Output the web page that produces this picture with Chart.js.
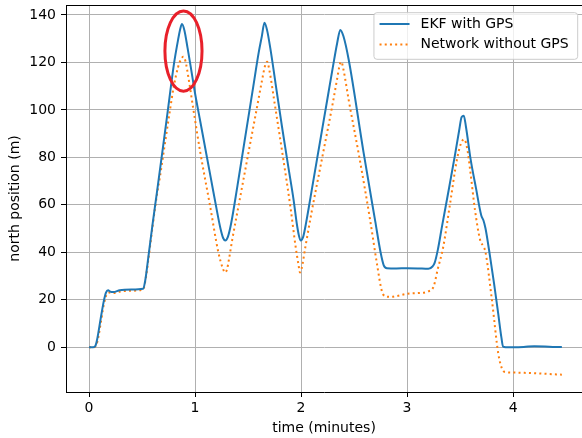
<!DOCTYPE html>
<html>
<head>
<meta charset="utf-8">
<script src="https://cdn.jsdelivr.net/npm/chart.js@4/dist/chart.umd.min.js"></script>
<style>
  body { margin:0; background:#fff; }
  #wrap { width:582px; height:438px; }
</style>
</head>
<body>
<div id="wrap"><canvas id="northChart"></canvas></div>
<script>
// --- Données (temps en minutes, position nord en m) ---
const timeEkf = [
  0, 0.04, 0.06, 0.08, 0.11, 0.14, 0.16, 0.18, 0.2, 0.23,
  0.29, 0.4, 0.51, 0.53, 0.56, 0.6, 0.64, 0.7, 0.75, 0.8,
  0.84, 0.86, 0.877, 0.9, 0.93, 0.96, 1.0, 1.05, 1.1, 1.15,
  1.2, 1.24, 1.265, 1.285, 1.31, 1.34, 1.4, 1.45, 1.5, 1.55,
  1.6, 1.63, 1.655, 1.68, 1.71, 1.76, 1.82, 1.88, 1.93, 1.96,
  1.98, 1.995, 2.02, 2.05, 2.1, 2.15, 2.2, 2.25, 2.3, 2.34,
  2.37, 2.4, 2.45, 2.59, 2.7, 2.75, 2.78, 2.81, 2.9, 3.0,
  3.1, 3.2, 3.24, 3.26, 3.29, 3.33, 3.4, 3.45, 3.49, 3.515,
  3.535, 3.555, 3.6, 3.65, 3.7, 3.72, 3.74, 3.78, 3.82, 3.86,
  3.89, 3.905, 3.93, 4.0, 4.1, 4.2, 4.3, 4.4, 4.46
];
const northEkf = [
  0, 0, 0.5, 4, 12, 19.5, 23, 24, 23.4, 23.2,
  24, 24.3, 24.6, 28, 38, 52, 65, 85, 102, 119,
  129.5, 134, 136.2, 133.5, 126, 118, 107, 95, 83, 71,
  59, 50, 46, 45, 46.5, 52, 68, 82, 96, 110,
  124, 131, 136.7, 133.5, 126, 111, 93, 76, 62, 52,
  47, 45, 46.5, 53, 66, 79, 92, 105, 118, 128,
  133.7, 131, 121, 82, 53, 40, 34.5, 33.3, 33.2, 33.3,
  33.2, 33, 34, 35.5, 41, 51, 68, 80.5, 91, 97,
  97.5, 93, 79, 67, 55.5, 53.5, 50, 39, 27, 14,
  4, 0.3, 0, 0, 0.1, 0.4, 0.3, 0.1, 0.1
];
const timeNet = [
  0, 0.05, 0.08, 0.11, 0.14, 0.17, 0.2, 0.23, 0.3, 0.4,
  0.51, 0.53, 0.56, 0.6, 0.64, 0.67, 0.7, 0.764, 0.8, 0.84,
  0.87, 0.89, 0.91, 0.94, 0.985, 1.05, 1.14, 1.22, 1.26, 1.283,
  1.3, 1.32, 1.35, 1.425, 1.5, 1.58, 1.63, 1.66, 1.68, 1.7,
  1.75, 1.83, 1.9, 1.95, 1.975, 1.99, 2.005, 2.04, 2.1, 2.2,
  2.3, 2.34, 2.365, 2.38, 2.4, 2.45, 2.55, 2.65, 2.72, 2.76,
  2.79, 2.85, 2.9, 3.0, 3.1, 3.2, 3.25, 3.29, 3.34, 3.406,
  3.47, 3.51, 3.54, 3.57, 3.594, 3.64, 3.69, 3.72, 3.74, 3.8,
  3.86, 3.9, 3.93, 4.0, 4.2, 4.46
];
const northNet = [
  0, 0, 2.5, 10, 18, 22.5, 23, 22.8, 23.5, 23.8,
  24.3, 27.5, 37, 51, 64, 72, 81, 100, 110, 118,
  121.5, 122.4, 120.5, 113, 100, 82, 60, 40, 33.5, 31.5,
  32.5, 37, 45, 63, 81, 100, 112, 118.5, 120.3, 117,
  103, 80, 59, 42, 35, 31.5, 33, 42, 57, 80,
  103, 113, 119, 120.3, 117, 104, 80, 54, 34, 24,
  21.5, 21.2, 21.5, 22.5, 22.8, 23.5, 25.5, 33, 42, 60.6,
  79, 86, 87.6, 83, 75, 58, 45, 42.5, 40, 20,
  -2.6, -9.5, -10.5, -10.7, -11, -11.6
];
const seriesNames = ['EKF with GPS', 'Network without GPS'];
const xTicks = [0, 1, 2, 3, 4];
const yTicks = [0, 20, 40, 60, 80, 100, 120, 140];
// pic entouré en rouge (centre et demi-axes en unités des données)
const circled = { t: 0.891, north: 124.8, dt: 0.175, dn: 16.9 };

const toPoints = (xs, ys) => xs.map((x, i) => ({ x: x, y: ys[i] }));

Chart.defaults.font.family = 'DejaVu Sans';
Chart.defaults.font.size = 14;
Chart.defaults.color = '#000';

// --- Cadre haut, légende style matplotlib, ellipse rouge ---
const extras = {
  id: 'extras',
  afterDraw(chart) {
    const { ctx, chartArea: a, scales } = chart;
    ctx.save();
    // bord du haut
    ctx.strokeStyle = '#000';
    ctx.lineWidth = 1;
    ctx.beginPath();
    ctx.moveTo(a.left, a.top + 0.5);
    ctx.lineTo(a.right, a.top + 0.5);
    ctx.stroke();

    // légende
    ctx.font = '14px "DejaVu Sans"';
    const textW = Math.max(...seriesNames.map(s => ctx.measureText(s).width));
    const w = 46.6 + textW + 9, h = 46.6;
    const x0 = a.right - 4.3 - w, y0 = a.top + 7.7;
    ctx.fillStyle = 'rgba(255,255,255,0.8)';
    ctx.strokeStyle = '#cccccc';
    ctx.beginPath();
    ctx.roundRect(x0, y0, w, h, 3);
    ctx.fill();
    ctx.stroke();
    chart.data.datasets.forEach((ds, i) => {
      const y = y0 + 11.3 + i * 20.5;
      ctx.strokeStyle = ds.borderColor;
      ctx.lineWidth = ds.borderWidth;
      ctx.lineCap = 'butt';
      ctx.setLineDash(ds.borderDash || []);
      ctx.beginPath();
      ctx.moveTo(x0 + 5.6, y);
      ctx.lineTo(x0 + 35.6, y);
      ctx.stroke();
      ctx.setLineDash([]);
      ctx.fillStyle = '#000';
      ctx.textBaseline = 'middle';
      ctx.fillText(ds.label, x0 + 46.6, y);
    });

    // ellipse rouge
    const cx = scales.x.getPixelForValue(circled.t);
    const cy = scales.y.getPixelForValue(circled.north);
    const rx = scales.x.getPixelForValue(circled.t + circled.dt) - cx;
    const ry = cy - scales.y.getPixelForValue(circled.north + circled.dn);
    ctx.strokeStyle = '#e8202a';
    ctx.lineWidth = 3;
    ctx.beginPath();
    ctx.ellipse(cx, cy, rx, ry, 0, 0, Math.PI * 2);
    ctx.stroke();
    ctx.restore();
  }
};

new Chart(document.getElementById('northChart').getContext('2d'), {
  type: 'line',
  data: {
    datasets: [{
      label: seriesNames[0],
      data: toPoints(timeEkf, northEkf),
      borderColor: '#1f77b4',
      borderWidth: 2,
      pointRadius: 0,
      cubicInterpolationMode: 'monotone'
    }, {
      label: seriesNames[1],
      data: toPoints(timeNet, northNet),
      borderColor: '#ff7f0e',
      borderWidth: 2,
      borderDash: [2, 3.2],
      borderCapStyle: 'butt',
      pointRadius: 0,
      cubicInterpolationMode: 'monotone'
    }]
  },
  options: {
    responsive: true,
    maintainAspectRatio: false,
    animation: false,
    devicePixelRatio: 1,
    layout: { padding: { top: 5, right: 0, left: 0, bottom: 0 } },
    plugins: { legend: { display: false }, tooltip: { enabled: false } },
    scales: {
      x: {
        type: 'linear',
        min: -0.217, max: 4.65,
        afterBuildTicks: s => { s.ticks = xTicks.map(v => ({ value: v })); },
        afterFit: s => { s.height = 46; s.paddingLeft = 0; s.paddingRight = 0; },
        grid: { color: '#b0b0b0', lineWidth: 1, tickColor: '#000', tickLength: 5 },
        border: { color: '#000', width: 1 },
        ticks: { padding: 3, maxRotation: 0 },
        title: { display: true, text: 'time (minutes)', padding: { top: 0, bottom: 1.6 } }
      },
      y: {
        min: -18.9, max: 144.2,
        afterBuildTicks: s => { s.ticks = yTicks.map(v => ({ value: v })); },
        afterFit: s => { s.width = 66; s.paddingTop = 0; s.paddingBottom = 0; },
        grid: { color: '#b0b0b0', lineWidth: 1, tickColor: '#000', tickLength: 5 },
        border: { color: '#000', width: 1 },
        ticks: { padding: 5 },
        title: { display: true, text: 'north position (m)', padding: { top: 6.5, bottom: 0 } }
      }
    }
  },
  plugins: [extras]
});
</script>
</body>
</html>
